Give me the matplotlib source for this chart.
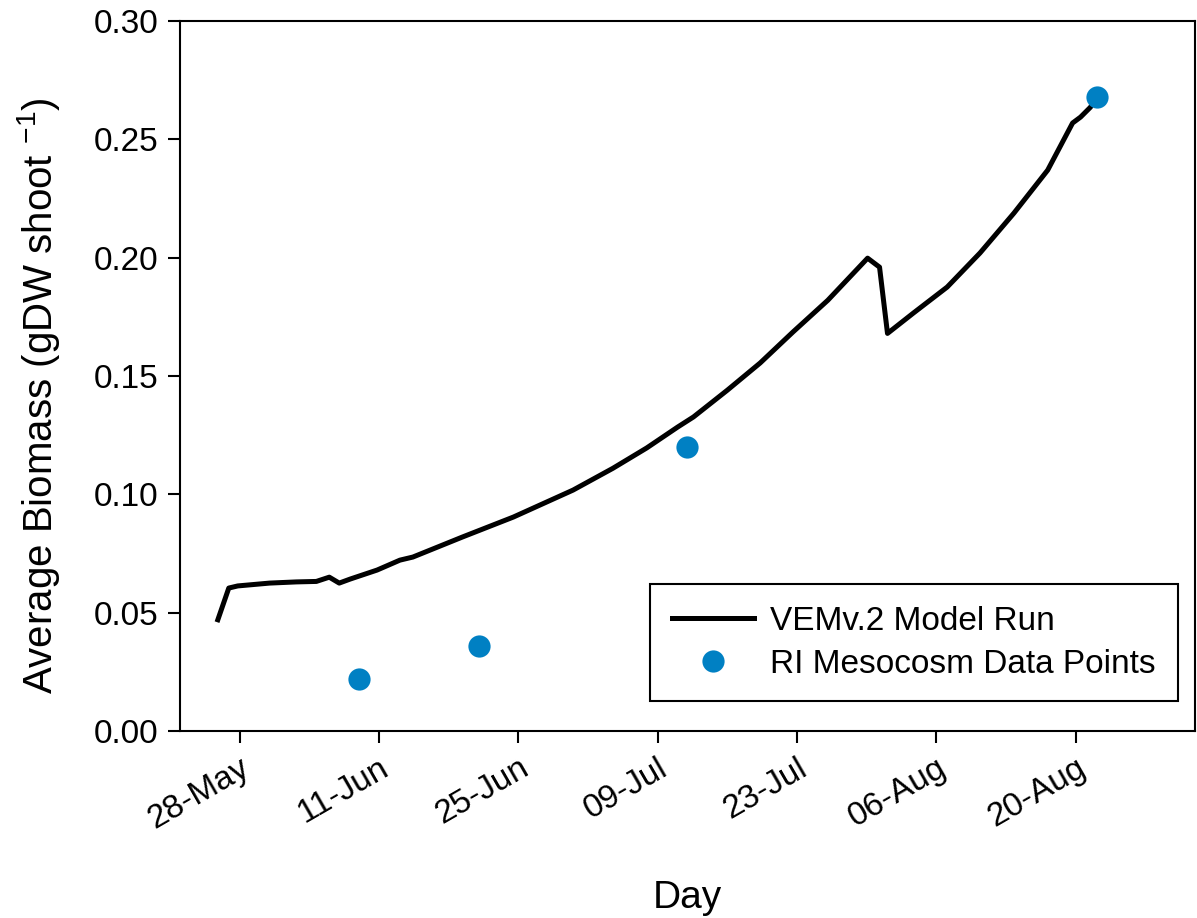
import datetime as dt

import numpy as np
import matplotlib
matplotlib.use("Agg")
import matplotlib.pyplot as plt
import matplotlib.dates as mdates

plt.rcParams['font.family'] = ['Liberation Sans', 'DejaVu Sans']
plt.rcParams['mathtext.fontset'] = 'custom'
plt.rcParams['mathtext.rm'] = 'Liberation Sans'

# VEMv.2 model run, days after 28-May
model_day = [-2.2, -1.1, -0.2, 3.0, 5.7, 7.7, 9.0, 10.0, 11.1, 13.8, 16.1, 17.4,
             22.4, 27.5, 33.5, 37.5, 40.9, 44.0, 45.6, 49.0, 52.3, 55.6, 59.1,
             63.1, 64.3, 65.1, 67.7, 71.1, 74.4, 77.8, 81.2, 83.7, 84.5, 85.5, 86.1]
model_biomass = [0.047, 0.0604, 0.0613, 0.0625, 0.063, 0.0632, 0.065, 0.0625, 0.0642,
                 0.068, 0.0722, 0.0735, 0.082, 0.0904, 0.1018, 0.111, 0.1196, 0.1284,
                 0.1327, 0.144, 0.1555, 0.1686, 0.182, 0.1998, 0.196, 0.168, 0.1766,
                 0.1876, 0.202, 0.2188, 0.237, 0.2569, 0.2594, 0.2636, 0.268]

# RI mesocosm samples
obs_day = [12.0, 24.0, 45.0, 86.2]
obs_biomass = [0.022, 0.036, 0.120, 0.268]

start = dt.datetime(2014, 5, 28)
model_dates = [start + dt.timedelta(days=d) for d in model_day]
obs_dates = [start + dt.timedelta(days=d) for d in obs_day]
tick_dates = [start + dt.timedelta(days=14 * i) for i in range(7)]

fig = plt.figure(figsize=(11.97, 9.18), dpi=100)
ax = fig.add_axes([0.1504, 0.2037, 0.8479, 0.7734])

ax.plot(model_dates, model_biomass, color='black', lw=3.6, label='VEMv.2 Model Run')
ax.plot(obs_dates, obs_biomass, 'o', color='#0080C3', ms=16, mec='none',
        label='RI Mesocosm Data Points')

ax.set_xlim(dt.datetime(2014, 5, 22), dt.datetime(2014, 9, 1))
ax.set_ylim(0, 0.30)
ax.set_yticks(np.arange(0, 0.301, 0.05))
ax.yaxis.set_major_formatter(plt.FormatStrFormatter('%.2f'))
ax.set_xticks(tick_dates)
ax.xaxis.set_major_formatter(mdates.DateFormatter('%d-%b'))
plt.setp(ax.get_xticklabels(), rotation=30, ha='right', rotation_mode='anchor')

ax.tick_params(labelsize=24, length=8.5, width=1.5, direction='out', pad=7)
for sp in ax.spines.values():
    sp.set_linewidth(1.5)

ax.set_xlabel('Day', fontsize=28, labelpad=32)
ax.set_ylabel('Average Biomass (gDW shoot $^{-1}$)', fontsize=29)
ax.yaxis.set_label_coords(-0.116, 0.473)

leg = ax.legend(loc='lower right', bbox_to_anchor=(0.983, 0.042), borderaxespad=0,
                fontsize=24, fancybox=False, framealpha=1, edgecolor='black',
                handlelength=2.45, handletextpad=0.5, borderpad=0.65,
                labelspacing=0.35)
leg.get_frame().set_linewidth(1.5)

fig.savefig('out.png', dpi=100)
